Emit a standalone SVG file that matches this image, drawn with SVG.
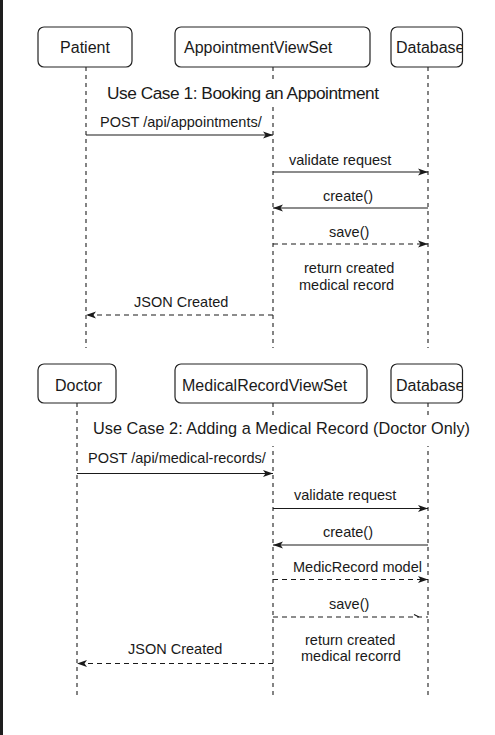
<svg xmlns="http://www.w3.org/2000/svg" width="495" height="735" viewBox="0 0 495 735">
<style>
.box{fill:#fff;stroke:#222;stroke-width:1.2}
.node{font-family:"Liberation Sans",Arial,sans-serif;font-size:16px;fill:#1a1a1a}
.lbl{font-family:"Liberation Sans",Arial,sans-serif;font-size:14.5px;fill:#1a1a1a}
.title{font-family:"Liberation Sans",Arial,sans-serif;fill:#1a1a1a}
.life{stroke:#333;stroke-width:1.2;stroke-dasharray:4 4;fill:none}
.msg{stroke:#1a1a1a;stroke-width:1.2;fill:none}
.ret{stroke:#1a1a1a;stroke-width:1.2;fill:none;stroke-dasharray:5 4}
</style>
<defs>
<marker id="arr" markerUnits="userSpaceOnUse" markerWidth="11" markerHeight="8" refX="10" refY="4" orient="auto">
<path d="M0,0.5 L10,4 L0,7.5 L2.5,4 z" fill="#1a1a1a"/>
</marker>
<clipPath id="clipDb1"><rect x="391" y="27" width="71.5" height="40"/></clipPath>
<clipPath id="clipDb2"><rect x="391" y="364" width="71.5" height="39"/></clipPath>
</defs>
<rect x="0" y="0" width="495" height="735" fill="#fff"/>
<rect x="0" y="0" width="3" height="735" fill="#1e1e1e"/>

<g id="lifelines">
<line class="life" x1="86" y1="67" x2="86" y2="348"/>
<line class="life" x1="273" y1="67" x2="273" y2="348"/>
<line class="life" x1="428" y1="67" x2="428" y2="348"/>
<line class="life" x1="77" y1="403" x2="77" y2="696"/>
<line class="life" x1="273" y1="403" x2="273" y2="696"/>
<line class="life" x1="428" y1="403" x2="428" y2="696"/>
</g>

<g id="patient"><rect class="box" x="38" y="27" width="94" height="40" rx="6"/><text class="node" x="85" y="53" text-anchor="middle">Patient</text></g>
<g id="appointmentviewset"><rect class="box" x="175" y="27" width="195" height="40" rx="6"/><text class="node" x="184" y="53">AppointmentViewSet</text></g>
<g id="database1"><rect class="box" x="391" y="27" width="71.5" height="40" rx="6"/><text class="node" x="396" y="53" clip-path="url(#clipDb1)">Database</text></g>

<g id="title1"><rect x="104" y="81" width="279" height="25" fill="#fff"/><text class="title" x="107" y="98.5" font-size="17.3" textLength="272">Use Case 1: Booking an Appointment</text></g>

<g id="doctor"><rect class="box" x="38" y="364" width="78" height="39" rx="6"/><text class="node" x="78.5" y="391" text-anchor="middle">Doctor</text></g>
<g id="medicalrecordviewset"><rect class="box" x="175" y="364" width="192" height="39" rx="6"/><text class="node" x="182" y="391">MedicalRecordViewSet</text></g>
<g id="database2"><rect class="box" x="391" y="364" width="71.5" height="39" rx="6"/><text class="node" x="396" y="391" clip-path="url(#clipDb2)">Database</text></g>

<g id="title2"><rect x="90" y="419" width="383" height="27" fill="#fff"/><text class="title" x="93" y="433.5" font-size="16.3" textLength="377">Use Case 2: Adding a Medical Record (Doctor Only)</text></g>

<g id="connectors">
<line class="msg" x1="86" y1="135" x2="273" y2="135" marker-end="url(#arr)"/>
<line class="msg" x1="273" y1="172" x2="428" y2="172" marker-end="url(#arr)"/>
<line class="msg" x1="428" y1="208" x2="273" y2="208" marker-end="url(#arr)"/>
<line class="ret" x1="273" y1="244" x2="428" y2="244" marker-end="url(#arr)"/>
<line class="ret" x1="273" y1="315" x2="86" y2="315" marker-end="url(#arr)"/>

<line class="msg" x1="77" y1="473.5" x2="273" y2="473.5" marker-end="url(#arr)"/>
<line class="msg" x1="273" y1="508.5" x2="428" y2="508.5" marker-end="url(#arr)"/>
<line class="msg" x1="428" y1="545" x2="273" y2="545" marker-end="url(#arr)"/>
<line class="ret" x1="273" y1="579.5" x2="428" y2="579.5" marker-end="url(#arr)"/>
<line class="ret" x1="273" y1="617" x2="428" y2="617"/>
<line class="msg" x1="414" y1="614.5" x2="419" y2="617" stroke-width="1.6"/>
<line class="ret" x1="273" y1="663.5" x2="77" y2="663.5" marker-end="url(#arr)"/>
</g>

<g id="labels">
<text class="lbl" x="100" y="127">POST /api/appointments/</text>
<text class="lbl" x="289" y="165">validate request</text>
<text class="lbl" x="323" y="201">create()</text>
<text class="lbl" x="329" y="237">save()</text>
<text class="lbl" x="304" y="273">return created</text>
<text class="lbl" x="299" y="290">medical record</text>
<text class="lbl" x="134" y="307">JSON Created</text>

<text class="lbl" x="88" y="463">POST /api/medical-records/</text>
<text class="lbl" x="294" y="500">validate request</text>
<text class="lbl" x="323" y="537">create()</text>
<text class="lbl" x="293" y="572">MedicRecord model</text>
<text class="lbl" x="329" y="609">save()</text>
<text class="lbl" x="305" y="645">return created</text>
<text class="lbl" x="301" y="661">medical recorrd</text>
<text class="lbl" x="128" y="654">JSON Created</text>
</g>
</svg>
